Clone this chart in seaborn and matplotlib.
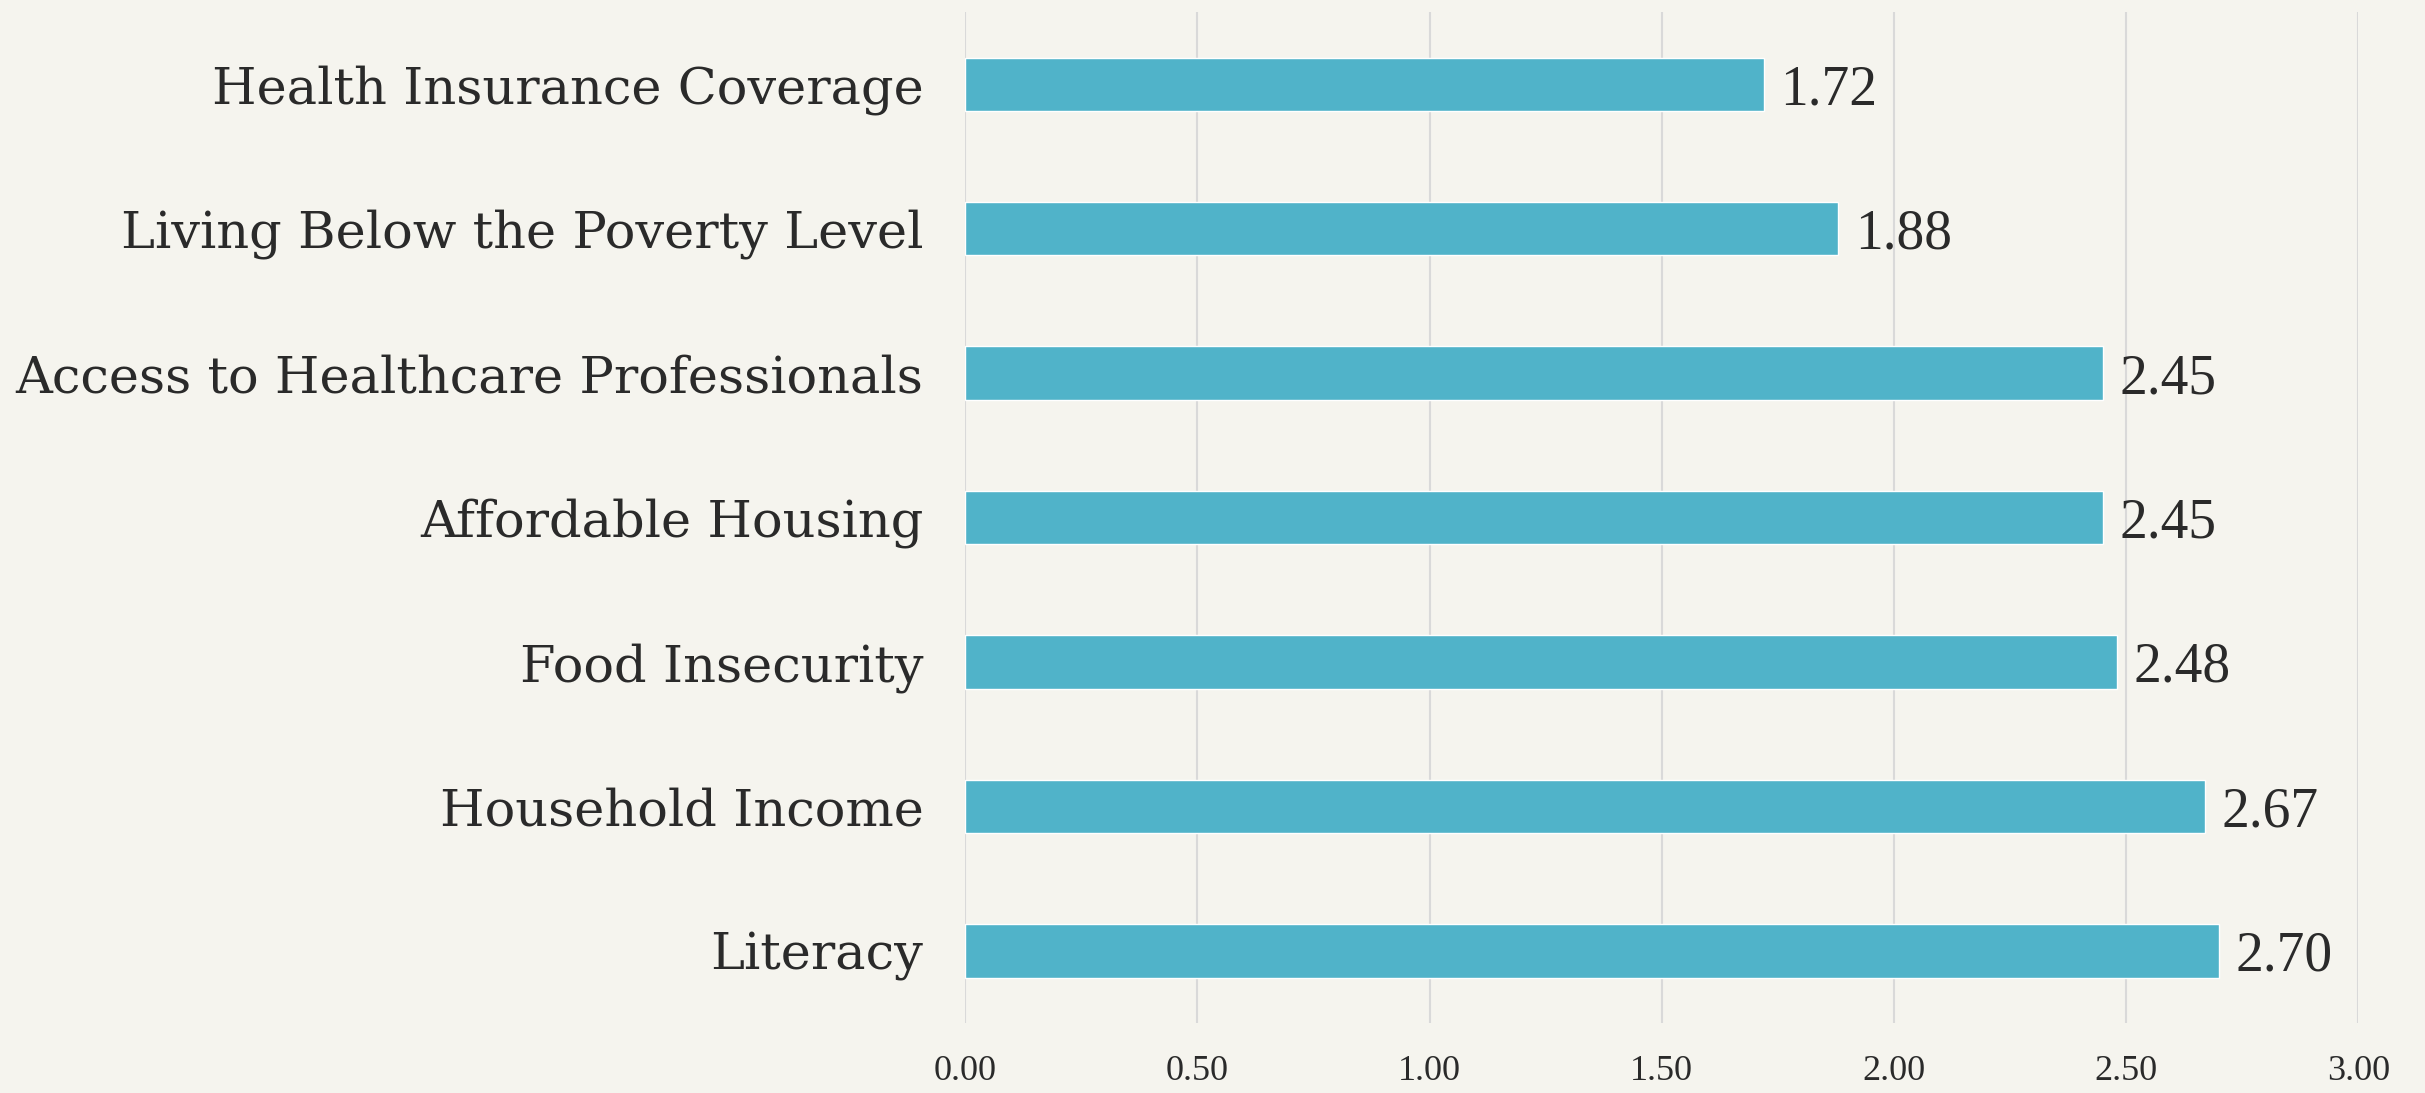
import matplotlib
matplotlib.use("Agg")
import matplotlib.pyplot as plt
import seaborn as sns
import pandas as pd

categories = ["Health Insurance Coverage", "Living Below the Poverty Level",
              "Access to Healthcare Professionals", "Affordable Housing",
              "Food Insecurity", "Household Income", "Literacy"]
values = [1.72, 1.88, 2.45, 2.45, 2.48, 2.67, 2.70]
xticks = [0.0, 0.5, 1.0, 1.5, 2.0, 2.5, 3.0]

BG = "#F5F4EE"
BAR = "#50B3C9"
TXT = "#2A2A2A"

sns.set_theme(style="white")
plt.rcParams["font.family"] = ["DejaVu Serif", "Liberation Serif"]

df = pd.DataFrame({"cat": categories, "val": values})

fig = plt.figure(figsize=(24.25, 10.93), dpi=100, facecolor=BG)
ax = fig.add_axes([0.398, 0.064, 0.5745, 0.925])
ax.set_facecolor(BG)

sns.barplot(data=df, y="cat", x="val", orient="h", color=BAR, width=0.37,
            saturation=1, ax=ax, zorder=3)

ax.set_xlim(0, 3.0)
ax.set_ylim(len(categories) - 0.5, -0.5)
ax.set_xticks(xticks)
ax.set_xticklabels([f"{t:.2f}" for t in xticks], fontsize=26, color=TXT,
                   family=["Liberation Serif"])
ax.tick_params(axis="x", length=0, pad=23)
ax.tick_params(axis="y", length=0, pad=30, labelsize=36.7, labelcolor=TXT)
ax.set_xlabel("")
ax.set_ylabel("")
for s in ax.spines.values():
    s.set_visible(False)
ax.grid(axis="x", color="#D9D9D9", linewidth=1.5, zorder=0)
ax.set_axisbelow(True)

for cont in ax.containers:
    texts = ax.bar_label(cont, labels=[f"{v:.2f}" for v in values], padding=12,
                         fontsize=40, color=TXT, family=["Liberation Serif"])
    for t in texts:
        t.set_va("center_baseline")

fig.savefig("out.png", dpi=100, facecolor=BG)
